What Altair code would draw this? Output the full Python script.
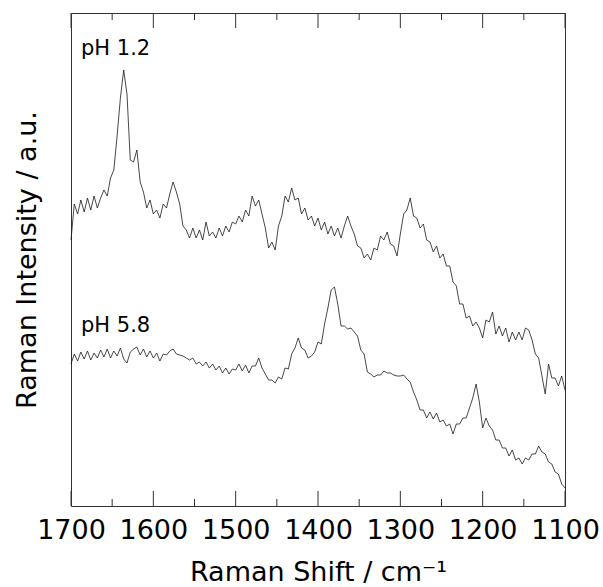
import altair as alt
import pandas as pd

# Raman shift sampling grid (cm^-1), 1700 -> 1100 in 4 cm^-1 steps
wavenumber = list(range(1700, 1099, -4))

# pH 1.2 spectrum (arbitrary units)
ph12 = [
    266, 302, 292, 306, 294, 308, 296, 310, 298, 308,
    316, 310, 328, 336, 370, 408, 436, 412, 346, 344,
    356, 324, 314, 298, 306, 292, 296, 288, 302, 298,
    312, 324, 314, 302, 280, 276, 268, 278, 268, 276,
    266, 284, 270, 274, 268, 278, 270, 280, 274, 284,
    282, 290, 284, 296, 290, 310, 300, 306, 292, 278,
    258, 264, 256, 280, 290, 310, 304, 318, 306, 308,
    292, 298, 286, 290, 280, 288, 276, 284, 272, 280,
    270, 278, 268, 280, 290, 280, 272, 260, 258, 248,
    252, 246, 258, 256, 270, 266, 274, 262, 260, 250,
    272, 292, 296, 308, 290, 288, 278, 282, 266, 264,
    254, 260, 248, 252, 240, 240, 224, 220, 202, 202,
    188, 190, 180, 184, 178, 168, 186, 184, 194, 172,
    180, 170, 178, 164, 174, 166, 174, 166, 178, 176,
    166, 152, 148, 130, 112, 142, 128, 128, 120, 130,
    116,
]

# pH 5.8 spectrum (arbitrary units)
ph58 = [
    142, 152, 145, 154, 147, 155, 146, 153, 148, 156,
    149, 157, 148, 155, 150, 158, 147, 143, 154, 157,
    159, 151, 157, 149, 155, 148, 153, 145, 152, 151,
    155, 157, 152, 151, 150, 148, 146, 148, 142, 144,
    140, 144, 138, 142, 136, 140, 133, 138, 132, 137,
    136, 142, 135, 141, 133, 140, 140, 148, 138, 132,
    126, 126, 123, 129, 127, 138, 137, 152, 158, 168,
    158, 156, 148, 150, 154, 164, 162, 182, 198, 216,
    219, 202, 180, 180, 177, 178, 174, 170, 156, 152,
    134, 132, 129, 131, 131, 135, 133, 133, 131, 130,
    130, 131, 127, 124, 114, 106, 96, 96, 88, 94,
    87, 93, 84, 86, 80, 82, 72, 82, 82, 88,
    88, 98, 108, 122, 104, 78, 88, 80, 76, 66,
    66, 58, 58, 50, 56, 46, 48, 42, 48, 46,
    52, 52, 60, 54, 52, 44, 42, 34, 32, 22,
    18,
]

major_ticks = [1700, 1600, 1500, 1400, 1300, 1200, 1100]
minor_ticks = [1650, 1550, 1450, 1350, 1250, 1150]
series_labels = ["pH 1.2", "pH 5.8"]

FONT = "DejaVu Sans"
W, H = 494, 493

df = pd.concat([
    pd.DataFrame({"wn": wavenumber, "I": ph12, "s": series_labels[0]}),
    pd.DataFrame({"wn": wavenumber, "I": ph58, "s": series_labels[1]}),
])

xscale = alt.Scale(domain=[1100, 1700], reverse=True, nice=False, zero=False)
yscale = alt.Scale(domain=[0, 493], nice=False, zero=False)

lines = alt.Chart(df).mark_line(color="#1a1a1a", strokeWidth=0.8).encode(
    x=alt.X("wn:Q", scale=xscale,
            axis=alt.Axis(values=major_ticks, format="d", ticks=False, domain=False,
                          grid=False, labelFont=FONT, labelFontSize=27,
                          labelColor="#000", labelPadding=11, labelFlush=False,
                          title="Raman Shift / cm⁻¹", titleFont=FONT,
                          titleFontSize=27, titleFontWeight="normal",
                          titleColor="#000", titlePadding=16)),
    y=alt.Y("I:Q", scale=yscale,
            axis=alt.Axis(labels=False, ticks=False, domain=False, grid=False,
                          title="Raman Intensity / a.u.", titleFont=FONT,
                          titleFontSize=27, titleFontWeight="normal",
                          titleColor="#000", titlePadding=30)),
    detail="s:N",
)

maj = pd.DataFrame({"wn": major_ticks})
mnr = pd.DataFrame({"wn": minor_ticks})

def ticks(d, y, y2):
    return alt.Chart(d).mark_rule(color="#333", strokeWidth=1).encode(
        x=alt.X("wn:Q", scale=xscale), y=alt.value(y), y2=alt.value(y2))

tick_layers = [
    ticks(maj, H, H - 15), ticks(mnr, H, H - 7),
    ticks(maj, 0, 15), ticks(mnr, 0, 7),
]

lab = pd.DataFrame({"t": series_labels})
label1 = alt.Chart(lab.iloc[[0]]).mark_text(
    font=FONT, fontSize=21, align="left", baseline="alphabetic", color="#000"
).encode(text="t:N", x=alt.value(10), y=alt.value(42))
label2 = alt.Chart(lab.iloc[[1]]).mark_text(
    font=FONT, fontSize=21, align="left", baseline="alphabetic", color="#000"
).encode(text="t:N", x=alt.value(10), y=alt.value(319))

chart = alt.layer(lines, *tick_layers, label1, label2).properties(
    width=W, height=H,
    padding={"left": 71, "top": 13, "right": 38, "bottom": 81},
    autosize=alt.AutoSizeParams(type="none"),
).configure_view(stroke="#333", strokeWidth=1)

chart.save("out.html", embed_options={"renderer": "svg", "actions": False})
